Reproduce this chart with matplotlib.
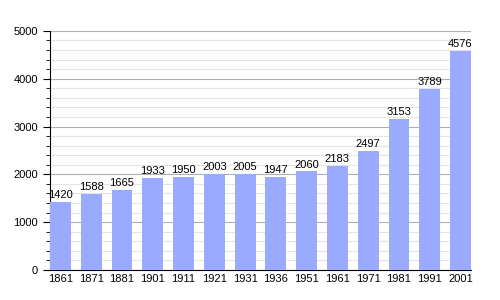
import matplotlib.pyplot as plt
from matplotlib.ticker import MultipleLocator

# population by census year
years = ['1861', '1871', '1881', '1901', '1911', '1921', '1931',
         '1936', '1951', '1961', '1971', '1981', '1991', '2001']
population = [1420, 1588, 1665, 1933, 1950, 2003, 2005,
              1947, 2060, 2183, 2497, 3153, 3789, 4576]

plt.rcParams['font.family'] = ['Liberation Sans', 'DejaVu Sans']

fig = plt.figure(figsize=(5, 3), dpi=100)
ax = fig.add_axes([0.1, 0.1, 0.842, 0.797])

x = range(len(years))
bars = ax.bar(x, population, width=0.68, color='#99aaff', zorder=3)
for xi, v in zip(x, population):
    ax.text(xi, v + 40, str(v), ha='center', va='bottom', fontsize=8, zorder=4)

ax.set_xlim(-0.34, len(years) - 1 + 0.34)
ax.set_ylim(0, 5000)
ax.set_xticks(list(x))
ax.set_xticklabels(years)
ax.yaxis.set_major_locator(MultipleLocator(1000))
ax.yaxis.set_minor_locator(MultipleLocator(200))
ax.grid(axis='y', which='major', color='#b0b0b0', linewidth=0.8, zorder=0)
ax.grid(axis='y', which='minor', color='#e4e4e4', linewidth=0.8, zorder=0)
ax.tick_params(axis='x', length=0, labelsize=8, pad=3)
ax.tick_params(axis='y', which='major', length=5, labelsize=8)
ax.tick_params(axis='y', which='minor', length=3)
ax.spines['top'].set_visible(False)
ax.spines['right'].set_visible(False)

fig.savefig('out.png', dpi=100)
